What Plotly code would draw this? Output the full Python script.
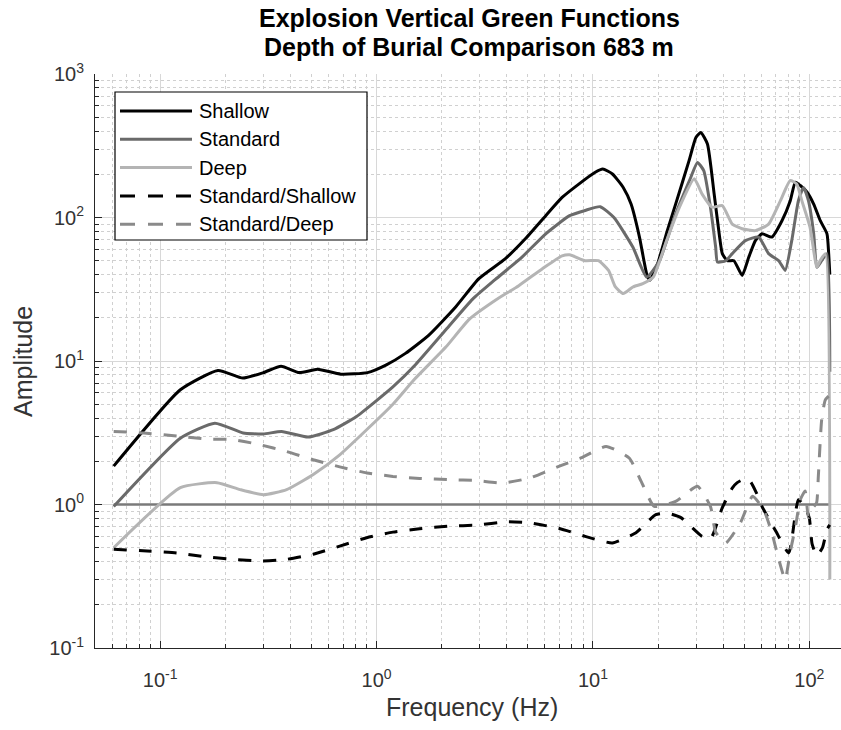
import numpy as np
import plotly.graph_objects as go

# ---------------------------------------------------------------- data
freq_shallow = [0.061, 0.124, 0.185, 0.241, 0.30, 0.362, 0.439, 0.534, 0.684, 0.908,
                1.11, 1.36, 1.74, 2.32, 2.97, 3.94, 4.87, 6.05, 7.2, 8.6,
                10.2, 11.1, 12.3, 13.8, 15.0, 16.4, 17.7, 18.3, 19.9, 22.0,
                24.1, 27.8, 29.9, 31.5, 33.8, 36.3, 38.3, 39.6, 41.8, 44.8,
                48.9, 52.5, 56.3, 60.4, 67.0, 74.7, 81.6, 86.1, 90.8, 97.6,
                104.7, 112.3, 120.6, 122.8, 124.3]
amp_shallow = [1.85, 6.3, 8.6, 7.6, 8.3, 9.2, 8.3, 8.75, 8.1, 8.3,
               9.4, 11.3, 15.1, 23.8, 37.5, 51.7, 71, 103, 138, 171,
               206, 218, 201, 162, 124, 73, 40.6, 36.5, 47.7, 80,
               124, 249, 361, 391, 325, 146, 77, 56, 50, 50,
               39.5, 53, 69, 77, 73, 95, 131, 176, 167, 150,
               124, 95, 77, 56, 40]

freq_standard = [0.061, 0.124, 0.179, 0.242, 0.30, 0.364, 0.483, 0.631, 0.808, 1.0,
                 1.19, 1.52, 2.09, 2.78, 3.54, 4.7, 6.05, 7.8, 9.2, 10.8,
                 12.5, 15.3, 17.7, 20.3, 24.1, 28.3, 30.4, 32.5, 34.9, 36.9,
                 37.6, 41.1, 44.0, 50.6, 58.3, 64.8, 72.2, 77.3, 82.9, 89.0,
                 94.0, 99.0, 104.7, 108.3, 114.0, 120.6, 124.3]
amp_standard = [0.97, 2.9, 3.69, 3.15, 3.1, 3.23, 2.95, 3.32, 4.1, 5.3,
                6.6, 9.5, 16.5, 27, 37, 53, 77, 103, 112, 119,
                100, 62, 38.5, 50, 106, 190, 242, 212, 118, 62,
                49, 50, 56, 69, 73, 56, 50, 42.8, 69, 131,
                162, 131, 77, 45, 50, 56, 8.4]

freq_deep = [0.061, 0.124, 0.183, 0.234, 0.30, 0.384, 0.51, 0.676, 0.90, 1.19,
             1.49, 2.09, 2.68, 3.54, 4.54, 5.84, 7.2, 7.8, 9.2, 10.6,
             11.8, 12.7, 13.8, 15.3, 17.0, 19.0, 21.9, 25.1, 29.4, 31.9,
             35.5, 39.6, 44.0, 48.9, 56.3, 64.8, 73.5, 81.6, 87.4, 92.3,
             100.6, 108.3, 112.0, 118.5, 124.3]
amp_deep = [0.5, 1.31, 1.42, 1.27, 1.17, 1.27, 1.62, 2.22, 3.32, 5.0,
            7.4, 12.5, 19.5, 26.5, 33.5, 44, 54, 55, 50, 50,
            42.8, 32.8, 29.5, 32.8, 34.6, 38.5, 69, 118, 186, 146,
            118, 121, 90, 83.5, 81, 90, 131, 181, 171, 131,
            86, 45, 50, 56, 0.3]

freq_std_shallow = [0.061, 0.087, 0.119, 0.159, 0.218, 0.289, 0.384, 0.51, 0.676, 0.90,
                    1.19, 1.58, 2.18, 2.89, 3.98, 5.1, 7.0, 9.2, 12.3, 15.8,
                    19.5, 22.0, 25.5, 31.9, 35.0, 39.6, 44.0, 46.4, 50.0, 53.3,
                    57.0, 60.4, 70.0, 80.3, 89.0, 96.0, 100.0, 103.0, 108.3, 115.0,
                    120.6, 124.3]
amp_std_shallow = [0.487, 0.474, 0.46, 0.433, 0.415, 0.404, 0.415, 0.45, 0.513, 0.587,
                   0.642, 0.678, 0.707, 0.718, 0.758, 0.746, 0.68, 0.60, 0.54, 0.636,
                   0.85, 0.87, 0.81, 0.60, 0.58, 0.95, 1.3, 1.42, 1.5, 1.45,
                   1.2, 0.97, 0.65, 0.46, 1.08, 0.95, 0.8, 0.53, 0.44, 0.5,
                   0.67, 0.72]

freq_std_deep = [0.061, 0.084, 0.124, 0.164, 0.218, 0.289, 0.384, 0.51, 0.676, 0.90,
                 1.19, 1.58, 2.18, 2.89, 3.82, 5.1, 7.0, 8.8, 11.5, 14.7,
                 16.7, 19.2, 24.1, 30.4, 34.9, 36.9, 41.1, 48.1, 54.6, 61.5,
                 67.0, 72.2, 77.3, 81.6, 86.1, 90.8, 95.6, 99.0, 104.0, 108.0,
                 110.0, 114.0, 118.5, 124.3]
amp_std_deep = [3.23, 3.15, 2.98, 2.86, 2.83, 2.61, 2.34, 2.05, 1.83, 1.66,
                1.57, 1.52, 1.49, 1.47, 1.41, 1.53, 1.85, 2.11, 2.54, 2.11,
                1.45, 0.97, 1.05, 1.34, 0.97, 0.64, 0.54, 0.75, 1.14, 0.92,
                0.64, 0.415, 0.30, 0.47, 0.69, 1.08, 1.24, 0.81, 0.95, 1.03,
                1.57, 3.9, 5.36, 5.8]

series_names = ["Shallow", "Standard", "Deep", "Standard/Shallow", "Standard/Deep"]

x_tick_vals = [0.1, 1, 10, 100]
x_tick_text = ["10<sup>-1</sup>", "10<sup>0</sup>", "10<sup>1</sup>", "10<sup>2</sup>"]
y_tick_vals = [0.1, 1, 10, 100, 1000]
y_tick_text = ["10<sup>-1</sup>", "10<sup>0</sup>", "10<sup>1</sup>",
               "10<sup>2</sup>", "10<sup>3</sup>"]

x_limits = [0.05, 140]
y_limits = [0.1, 1000]

# ---------------------------------------------------------------- styling
W, H = 841, 730
ML, MR, MT, MB = 95, 0, 74, 82
PW, PH = W - ML - MR, H - MT - MB
FONT = "Liberation Sans, Arial, Helvetica, sans-serif"
AXIS_COLOR = "#262626"

styles = [
    dict(color="#000000", width=3.0, dash="solid"),
    dict(color="#6a6a6a", width=3.0, dash="solid"),
    dict(color="#b4b4b4", width=3.0, dash="solid"),
    dict(color="#000000", width=3.0, dash="13px,12px"),
    dict(color="#8a8a8a", width=3.0, dash="13px,12px"),
]


def px_to_paper(px, py):
    """Convert figure pixel coordinates to paper coordinates."""
    return (px - ML) / PW, (H - MB - py) / PH


def minor_ticks(lo_exp, hi_exp):
    vals = []
    for e in range(lo_exp, hi_exp + 1):
        for k in range(2, 10):
            vals.append(k * 10.0 ** e)
    return vals


fig = go.Figure()

# unit-ratio reference line across the frequency band
f_band = [min(freq_shallow), max(freq_shallow)]
fig.add_trace(go.Scatter(x=f_band, y=[1, 1], mode="lines",
                         line=dict(color="#7a7a7a", width=2.5),
                         showlegend=False, hoverinfo="skip"))

all_freqs = [freq_shallow, freq_standard, freq_deep, freq_std_shallow, freq_std_deep]
all_amps = [amp_shallow, amp_standard, amp_deep, amp_std_shallow, amp_std_deep]
for name, f, a, st in zip(series_names, all_freqs, all_amps, styles):
    fig.add_trace(go.Scatter(x=f, y=a, mode="lines", name=name,
                             line=dict(color=st["color"], width=st["width"],
                                       dash=st["dash"], shape="spline",
                                       smoothing=0.5),
                             showlegend=False))

axis_common = dict(
    type="log",
    showline=True, linecolor=AXIS_COLOR, linewidth=1, mirror=False,
    ticks="inside", ticklen=7, tickcolor=AXIS_COLOR, tickwidth=1,
    tickmode="array",
    showgrid=True, gridcolor="#d8d8d8", gridwidth=1,
    zeroline=False,
    tickfont=dict(family=FONT, size=20, color="#333333"),
)

fig.update_xaxes(
    **axis_common,
    range=[np.log10(x_limits[0]), np.log10(x_limits[1])],
    tickvals=x_tick_vals, ticktext=x_tick_text,
    ticklabelstandoff=14,
    minor=dict(tickmode="array", tickvals=minor_ticks(-2, 2),
               ticks="inside", ticklen=4, tickcolor=AXIS_COLOR,
               showgrid=True, gridcolor="#d0d0d0", griddash="dot", gridwidth=1),
)
fig.update_yaxes(
    **axis_common,
    range=[np.log10(y_limits[0]), np.log10(y_limits[1])],
    tickvals=y_tick_vals, ticktext=y_tick_text,
    ticklabelstandoff=6,
    minor=dict(tickmode="array", tickvals=minor_ticks(-1, 2),
               ticks="inside", ticklen=4, tickcolor=AXIS_COLOR,
               showgrid=True, gridcolor="#d0d0d0", griddash="dot", gridwidth=1),
)

annotations = []
shapes = []

# titles
for text, py in [("Explosion Vertical Green Functions", 18),
                 ("Depth of Burial Comparison 683 m", 47)]:
    x, y = px_to_paper(469, py)
    annotations.append(dict(text=f"<b>{text}</b>", x=x, y=y, xref="paper", yref="paper",
                            xanchor="center", yanchor="middle", showarrow=False,
                            font=dict(family=FONT, size=25, color="#000000")))

x, y = px_to_paper(472, 707)
annotations.append(dict(text="Frequency (Hz)", x=x, y=y, xref="paper", yref="paper",
                        xanchor="center", yanchor="middle", showarrow=False,
                        font=dict(family=FONT, size=25, color="#333333")))
x, y = px_to_paper(23, 362)
annotations.append(dict(text="Amplitude", x=x, y=y, xref="paper", yref="paper",
                        xanchor="center", yanchor="middle", showarrow=False,
                        textangle=-90,
                        font=dict(family=FONT, size=25, color="#333333")))

# legend box
x0, y0 = px_to_paper(115, 240)
x1, y1 = px_to_paper(367, 92)
shapes.append(dict(type="rect", xref="paper", yref="paper", x0=x0, y0=y0, x1=x1, y1=y1,
                   line=dict(color="#000000", width=1.2), fillcolor="#ffffff",
                   layer="above"))
for i, (name, st) in enumerate(zip(series_names, styles)):
    py = 111 + 28.3 * i
    lx0, ly = px_to_paper(120, py)
    lx1, _ = px_to_paper(192, py)
    shapes.append(dict(type="line", xref="paper", yref="paper",
                       x0=lx0, x1=lx1, y0=ly, y1=ly, layer="above",
                       line=dict(color=st["color"], width=st["width"],
                                 dash="15px,13px" if st["dash"] != "solid" else "solid")))
    tx, ty = px_to_paper(197, py)
    annotations.append(dict(text=name, x=tx, y=ty, xref="paper", yref="paper",
                            xanchor="left", yanchor="middle", showarrow=False,
                            font=dict(family=FONT, size=20, color="#000000")))

fig.update_layout(
    width=W, height=H,
    margin=dict(l=ML, r=MR, t=MT, b=MB, pad=0),
    paper_bgcolor="#ffffff", plot_bgcolor="#ffffff",
    annotations=annotations, shapes=shapes,
    showlegend=False,
    font=dict(family=FONT),
)

fig.write_html("out.html")
